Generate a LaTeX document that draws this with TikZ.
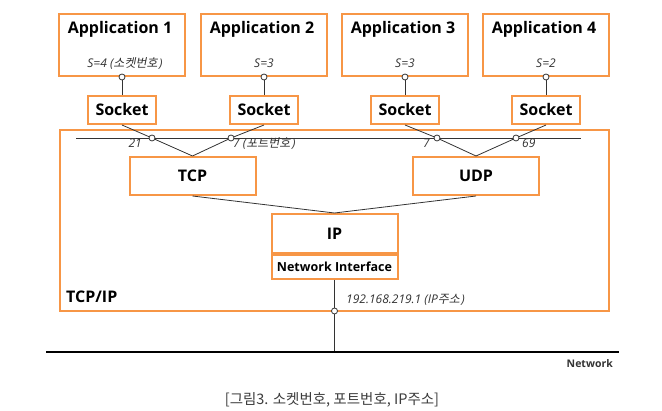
\documentclass[tikz,border=0pt]{standalone}
\usepackage{fontspec}
\setmainfont{Open Sans}
\newfontfamily\krfont{Noto Sans CJK KR}
\newfontfamily\kritfont{Noto Sans CJK KR}[FakeSlant=0.2]
\usepackage{tikz}
\usetikzlibrary{positioning}
\definecolor{boxorange}{HTML}{F79646}
\definecolor{wiregray}{HTML}{333333}
\definecolor{captiongray}{HTML}{3C3C3C}
\tikzstyle{appbox} = [rectangle, draw=boxorange, line width=2pt, fill=white, minimum width=126pt, minimum height=62pt, inner sep=0pt]
\tikzstyle{sockbox} = [rectangle, draw=boxorange, line width=2pt, fill=white, minimum width=68pt, minimum height=28pt, inner sep=0pt, font=\fontsize{16}{18}\selectfont\bfseries]
\tikzstyle{protobox} = [rectangle, draw=boxorange, line width=2pt, fill=white, minimum width=126pt, minimum height=38pt, inner sep=0pt, font=\fontsize{16}{18}\selectfont\bfseries]
\tikzstyle{frame} = [rectangle, draw=boxorange, line width=2pt, minimum width=549pt, minimum height=181pt, inner sep=0pt]
\tikzstyle{title} = [inner sep=0pt, font=\fontsize{16}{18}\selectfont\bfseries]
\tikzstyle{note} = [inner sep=0pt, text=wiregray, font=\fontsize{12}{14}\selectfont\itshape]
\tikzstyle{port} = [circle, draw=wiregray, fill=white, line width=0.8pt, minimum size=6pt, inner sep=0pt]
\tikzstyle{wire} = [draw=wiregray, line width=0.8pt]

\begin{document}
\begin{tikzpicture}[x=1pt, y=-1pt, node distance=18pt]
    \useasboundingbox (0,0) rectangle (662,411);

    % TCP/IP frame
    \node (stack) [frame] at (334.5,220.5) {};
    \node (stacklbl) [title, anchor=base west] at (66,303) {TCP/IP};

    % applications
    \node (app1) [appbox] at (122,45) {};
    \node (app2) [appbox] at (264,45) {};
    \node (app3) [appbox] at (405,45) {};
    \node (app4) [appbox] at (546,45) {};
    \node (ttl1) [title, anchor=base] at (120,34) {Application 1};
    \node (ttl2) [title, anchor=base] at (262,34) {Application 2};
    \node (ttl3) [title, anchor=base] at (403,34) {Application 3};
    \node (ttl4) [title, anchor=base] at (544,34) {Application 4};
    \node (sn1) [note, anchor=base] at (125,68) {S=4 ({\kritfont 소켓번호}\kern1.5pt)};
    \node (sn2) [note, anchor=base] at (264,68) {S=3};
    \node (sn3) [note, anchor=base] at (405,68) {S=3};
    \node (sn4) [note, anchor=base] at (546,68) {S=2};

    % sockets
    \node (sock1) [sockbox, below=18pt of app1] {Socket};
    \node (sock2) [sockbox, below=18pt of app2] {Socket};
    \node (sock3) [sockbox, below=18pt of app3] {Socket};
    \node (sock4) [sockbox, below=18pt of app4] {Socket};

    % protocols
    \node (tcp) [protobox] at (192.5,176) {TCP};
    \node (udp) [protobox] at (476,176) {UDP};
    \node (ip) [protobox, minimum height=39pt] at (334.5,233.5) {IP};
    \node (nic) [protobox, minimum height=24pt, below=0pt of ip, font=\fontsize{12.5}{14}\selectfont\bfseries] {Network Interface};

    % port bus
    \coordinate (busL) at (76,138);
    \coordinate (busR) at (581,138);
    \draw [wire] (busL) -- (busR);

    % ports
    \node (pa1) [port] at (app1.south) {};
    \node (pa2) [port] at (app2.south) {};
    \node (pa3) [port] at (app3.south) {};
    \node (pa4) [port] at (app4.south) {};
    \node (pt1) [port] at (152,138) {};
    \node (pt2) [port] at (231,138) {};
    \node (pt3) [port] at (437,138) {};
    \node (pt4) [port] at (516,138) {};
    \node (pip) [port] at (334.5,311) {};

    \node (pn1) [note, anchor=base east] at (142,148) {21};
    \node (pn2) [note, anchor=base west] at (233,148) {7 ({\kritfont 포트번호}\kern1.5pt)};
    \node (pn3) [note, anchor=base east] at (430,148) {7};
    \node (pn4) [note, anchor=base west] at (522,148) {69};
    \node (ipn) [note, anchor=base west] at (346,304) {192.168.219.1 (IP{\kritfont 주소}\kern1.5pt)};

    % connectors
    \draw [wire] (pa1) -- (sock1);
    \draw [wire] (pa2) -- (sock2);
    \draw [wire] (pa3) -- (sock3);
    \draw [wire] (pa4) -- (sock4);
    \draw [wire] (sock1.south) -- (pt1) -- (tcp.north);
    \draw [wire] (sock2.south) -- (pt2) -- (tcp.north);
    \draw [wire] (sock3.south) -- (pt3) -- (udp.north);
    \draw [wire] (sock4.south) -- (pt4) -- (udp.north);
    \draw [wire] (tcp.south) -- (ip.north);
    \draw [wire] (udp.south) -- (ip.north);

    % network
    \coordinate (netL) at (46,352);
    \coordinate (netR) at (619,352);
    \coordinate (tap) at (334.5,352);
    \draw [wire] (nic) -- (pip);
    \draw [wire] (pip) -- (tap);
    \draw [line width=2.5pt, black] (netL) -- (netR);
    \node (netlbl) [inner sep=0pt, anchor=base east, text=wiregray, font=\fontsize{10.5}{13}\selectfont\bfseries] at (613,368) {Network};

    % caption
    \node (caption) [inner sep=0pt, anchor=base, text=captiongray, font=\krfont\fontsize{14.5}{16}\selectfont] at (332,405) {[그림3. 소켓번호, 포트번호, IP주소]};
\end{tikzpicture}
\end{document}
